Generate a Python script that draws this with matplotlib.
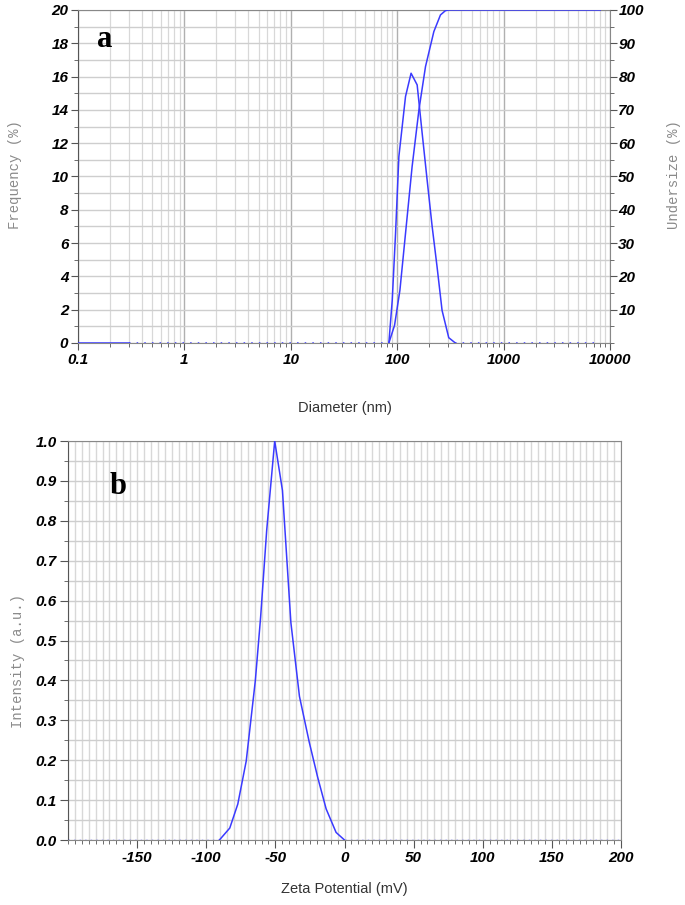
import numpy as np
import matplotlib
matplotlib.use("Agg")
import matplotlib.pyplot as plt
from matplotlib.ticker import FixedLocator, MultipleLocator, NullFormatter

# Panel a: particle size distribution
diam_freq = [83.5, 89.8, 96.5, 103.7, 119.7, 135, 154, 171.6, 191, 213, 237, 264, 305, 352]
frequency = [0, 2.56, 6.6, 11.2, 14.8, 16.2, 15.5, 12.6, 9.8, 7.0, 4.57, 1.96, 0.32, 0]
diam_cum = [83.5, 94.4, 106, 119.7, 138, 160, 184.5, 221, 255, 284, 305, 8100]
undersize = [0, 5.3, 15.8, 32.9, 52.9, 70, 83, 93.5, 98.5, 99.8, 100, 100]
zero_solid = [0.1, 0.3]
zero_dot_a = [[0.3, 83.5], [352, 8100]]

# Panel b: zeta potential
zeta = [-90.5, -83, -77.2, -71.1, -64.5, -60.7, -56.3, -50.5, -44.9, -38.8, -32.6, -25.5, -19.4, -13.3, -6.1, 0]
intensity = [0, 0.03, 0.09, 0.198, 0.40, 0.558, 0.776, 1.0, 0.876, 0.545, 0.36, 0.245, 0.157, 0.078, 0.019, 0]
zero_dot_b = [[-200, -90.5], [0, 200]]

BLUE = "#3a3aff"
MAJ = "#b0b0b0"
MIN = "#d8d8d8"
HGRID = "#cecece"
tickfont = dict(family="Liberation Sans", weight="bold", style="italic", size=11)

fig = plt.figure(figsize=(6.85, 9.05), dpi=100)

# ---------------- panel a ----------------
ax = fig.add_axes([0.1139, 0.621, 0.7766, 0.368])
ax.set_xscale("log")
ax.set_xlim(0.1, 10000)
ax.set_ylim(0, 20)
ax.plot(zero_solid, [0, 0], color=BLUE, lw=1.1, zorder=3)
for seg in zero_dot_a:
    ax.plot(seg, [0, 0], color=BLUE, lw=1.1, ls=(0, (1, 4)), zorder=3)
ax.plot(diam_freq, frequency, color=BLUE, lw=1.1, zorder=3)

majors = [0.1, 1, 10, 100, 1000, 10000]
ax.xaxis.set_major_locator(FixedLocator(majors))
ax.set_xticklabels(["0.1", "1", "10", "100", "1000", "10000"], fontdict=tickfont)
minors = [m * 10.0 ** e for e in range(-1, 4) for m in range(2, 10)]
ax.xaxis.set_minor_locator(FixedLocator(minors))
ax.xaxis.set_minor_formatter(NullFormatter())
ax.set_yticks(range(0, 21, 2))
ax.set_yticklabels([str(v) for v in range(0, 21, 2)], fontdict=tickfont)
ax.yaxis.set_minor_locator(MultipleLocator(1))
ax.grid(which="major", axis="x", color=MAJ, lw=1.0)
ax.grid(which="minor", axis="x", color=MIN, lw=0.9)
ax.grid(which="both", axis="y", color=HGRID, lw=1.0)
ax.set_axisbelow(True)
ax.tick_params(which="both", direction="out", color="#555555", pad=2)
ax.tick_params(which="major", length=5)
ax.tick_params(which="minor", length=3)
for s in ax.spines.values():
    s.set_color("#888888")
ax.spines["left"].set_color("#555555")

ax2 = ax.twinx()
ax2.set_ylim(0, 100)
ax2.plot(diam_cum, undersize, color=BLUE, lw=1.1, zorder=3)
ax2.set_yticks(range(10, 101, 10))
ax2.set_yticklabels([str(v) for v in range(10, 101, 10)], fontdict=tickfont)
ax2.yaxis.set_minor_locator(MultipleLocator(5))
ax2.tick_params(which="both", direction="out", color="#555555", pad=1)
ax2.tick_params(which="major", length=5)
ax2.tick_params(which="minor", length=3)
for s in ax2.spines.values():
    s.set_visible(False)

fig.text(0.022, 0.807, "Frequency (%)", rotation=90, ha="center", va="center",
         family="Liberation Mono", size=10, color="#8a8a8a")
fig.text(0.984, 0.807, "Undersize (%)", rotation=90, ha="center", va="center",
         family="Liberation Mono", size=10, color="#8a8a8a")
fig.text(0.503, 0.549, "Diameter (nm)", ha="center", va="center",
         family="Liberation Sans", size=10.5, color="#333333")
fig.text(0.153, 0.956, "a", ha="center", va="center",
         family="Liberation Serif", weight="bold", size=22)

# ---------------- panel b ----------------
bx = fig.add_axes([0.0993, 0.0718, 0.8073, 0.4409])
bx.set_xlim(-200, 200)
bx.set_ylim(0, 1.0)
for seg in zero_dot_b:
    bx.plot(seg, [0, 0], color=BLUE, lw=1.0, ls=(0, (1, 3)), zorder=3)
bx.plot(zeta, intensity, color=BLUE, lw=1.1, zorder=3)
bx.set_xticks(range(-150, 201, 50))
bx.set_xticklabels([str(v) for v in range(-150, 201, 50)], fontdict=tickfont)
bx.xaxis.set_minor_locator(MultipleLocator(5))
yt = [round(0.1 * i, 1) for i in range(11)]
bx.set_yticks(yt)
bx.set_yticklabels(["%.1f" % v for v in yt], fontdict=tickfont)
bx.yaxis.set_minor_locator(MultipleLocator(0.05))
bx.grid(which="both", axis="x", color=MIN, lw=1.0)
bx.grid(which="both", axis="y", color=HGRID, lw=1.0)
bx.set_axisbelow(True)
bx.tick_params(which="both", direction="out", color="#555555", pad=2)
bx.tick_params(which="major", length=6)
bx.tick_params(which="minor", length=3)
for s in bx.spines.values():
    s.set_color("#888888")
bx.spines["left"].set_color("#555555")

fig.text(0.027, 0.27, "Intensity (a.u.)", rotation=90, ha="center", va="center",
         family="Liberation Mono", size=10, color="#8a8a8a")
fig.text(0.503, 0.018, "Zeta Potential (mV)", ha="center", va="center",
         family="Liberation Sans", size=10.5, color="#333333")
fig.text(0.173, 0.462, "b", ha="center", va="center",
         family="Liberation Serif", weight="bold", size=22)

fig.savefig("out.png", dpi=100)
